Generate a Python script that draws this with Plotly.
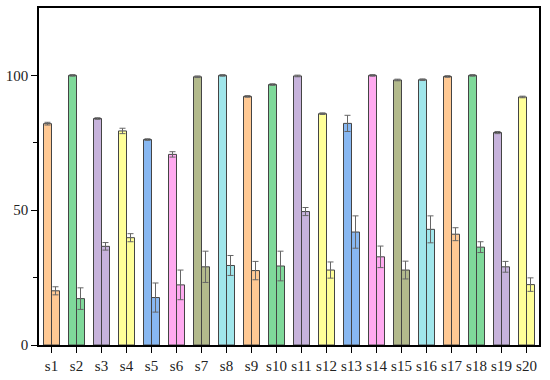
import plotly.graph_objects as go

categories = [f"s{i}" for i in range(1, 21)]
values_a = [82.1, 100, 84.0, 79.4, 76.2, 70.7, 99.5, 100, 92.2, 96.6,
            99.8, 85.8, 82.2, 100, 98.3, 98.4, 99.6, 100, 78.8, 92.0]
errors_a = [0.5, 0.3, 0.3, 1.0, 0.3, 1.0, 0.3, 0.3, 0.3, 0.3,
            0.3, 0.3, 3.0, 0.3, 0.3, 0.3, 0.3, 0.3, 0.4, 0.3]
values_b = [20.1, 17.2, 36.6, 39.8, 17.6, 22.3, 29.0, 29.5, 27.6, 29.3,
            49.5, 27.8, 41.9, 32.7, 27.8, 42.9, 41.1, 36.3, 29.0, 22.4]
errors_b = [1.5, 4.0, 1.4, 1.5, 5.4, 5.5, 5.8, 3.7, 3.4, 5.5,
            1.5, 3.0, 6.0, 4.0, 3.3, 5.0, 2.4, 2.0, 2.0, 2.5]
palette = ["#FFC994", "#7FD99A", "#C7B3DC", "#FFFF99", "#88B8F2", "#FFAAF0", "#B3BA8C", "#A0E6EB"]
colors = [palette[i % 8] for i in range(20)]

fig = go.Figure()
for vals, errs in [(values_a, errors_a), (values_b, errors_b)]:
    fig.add_trace(go.Bar(
        x=categories, y=vals,
        marker=dict(color=colors, line=dict(color="#444444", width=1)),
        error_y=dict(type="data", array=errs, visible=True, color="#666666", thickness=1, width=3),
        showlegend=False,
    ))

fig.update_layout(
    width=550, height=380,
    margin=dict(l=38, r=11, t=6, b=34),
    plot_bgcolor="white", paper_bgcolor="white",
    barmode="group", bargap=0.36, bargroupgap=0,
    font=dict(family="Liberation Serif", size=15, color="#222222"),
)
fig.update_xaxes(
    showline=True, linecolor="black", linewidth=1.5, mirror=True,
    ticks="outside", ticklen=6, tickcolor="black", showgrid=False,
    range=[-0.5, 19.5],
)
fig.update_yaxes(
    range=[0, 125], tickvals=[0, 50, 100],
    showline=True, linecolor="black", linewidth=1.5, mirror=True,
    ticks="outside", ticklen=6, tickcolor="black", showgrid=False, zeroline=False,
    minor=dict(tickvals=[25, 75], ticks="outside", ticklen=4, tickcolor="black"),
)
fig.write_html("out.html", config={"displayModeBar": False},
               post_script="document.body.style.margin='0';document.body.style.overflow='hidden';")
